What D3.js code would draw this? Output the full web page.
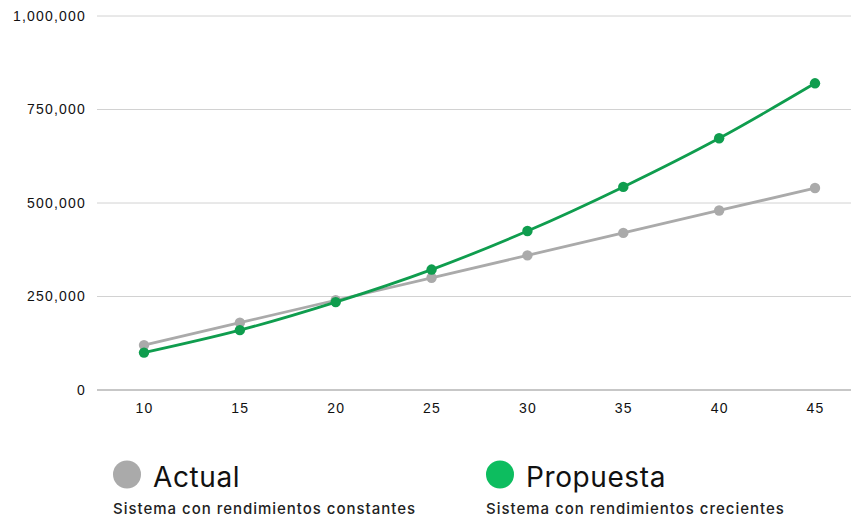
<!DOCTYPE html>
<html>
<head>
<meta charset="utf-8">
<script src="https://cdn.jsdelivr.net/npm/d3@7"></script>
<style>
  html, body { margin: 0; padding: 0; background: #fff; }
  svg { display: block; font-family: Inter, "Open Sans", sans-serif; }
</style>
</head>
<body>
<svg id="chart" width="851" height="517"></svg>
<script>
// Years of operation on the x axis
const years = [10, 15, 20, 25, 30, 35, 40, 45];
// Current system: constant returns
const actual = [120000, 180000, 240000, 300000, 360000, 420000, 480000, 540000];
// Proposed system: increasing returns
const propuesta = [100000, 160000, 235000, 322000, 425000, 543000, 673000, 820000];
const yTicks = [0, 250000, 500000, 750000, 1000000];

const series = [
  { name: "Actual", sub: "Sistema con rendimientos constantes", values: actual,
    line: "#aaaaaa", dot: "#aaaaaa", key: "#aaaaaa", curve: d3.curveLinear },
  { name: "Propuesta", sub: "Sistema con rendimientos crecientes", values: propuesta,
    line: "#0f9d4e", dot: "#0f9d4e", key: "#0dbd5f", curve: d3.curveMonotoneX }
];

const svg = d3.select("#chart");

const x = d3.scalePoint().domain(years).range([144, 815]);
const y = d3.scaleLinear().domain([0, 1000000]).range([390, 16]);

// Horizontal grid lines with value labels
const yAxis = d3.axisLeft(y).tickValues(yTicks).tickFormat(d3.format(",")).tickSize(0).tickPadding(0);
const gy = svg.append("g").attr("transform", "translate(86,0)").call(yAxis);
gy.select(".domain").remove();
gy.selectAll("text").attr("font-size", 14).attr("font-weight", 500)
  .attr("letter-spacing", 1.2).attr("fill", "#111");

svg.append("g").selectAll("line").data(yTicks).join("line")
  .attr("x1", 97).attr("x2", 851)
  .attr("y1", d => y(d)).attr("y2", d => y(d))
  .attr("stroke", d => d === 0 ? "#b5b5b5" : "#d2d2d2")
  .attr("stroke-width", d => d === 0 ? 1.5 : 1);

// Category labels along the bottom
const xAxis = d3.axisBottom(x).tickSize(0).tickPadding(0);
const gx = svg.append("g").attr("transform", "translate(0,403)").call(xAxis);
gx.select(".domain").remove();
gx.selectAll("text").attr("font-size", 14).attr("font-weight", 500)
  .attr("letter-spacing", 1.2).attr("fill", "#111");

// Lines and markers
series.forEach(s => {
  const line = d3.line().x((d, i) => x(years[i])).y(d => y(d)).curve(s.curve);
  svg.append("path").datum(s.values)
    .attr("d", line).attr("fill", "none")
    .attr("stroke", s.line).attr("stroke-width", 2.8);
  svg.append("g").selectAll("circle").data(s.values).join("circle")
    .attr("cx", (d, i) => x(years[i])).attr("cy", d => y(d))
    .attr("r", 5.2).attr("fill", s.dot);
});

// Legend
const legendX = [113, 486];
series.forEach((s, i) => {
  const g = svg.append("g").attr("transform", `translate(${legendX[i]},0)`);
  g.append("circle").attr("cx", 14).attr("cy", 474.5).attr("r", 14).attr("fill", s.key);
  g.append("text").attr("x", 40).attr("y", 487).attr("font-size", 28)
    .attr("letter-spacing", 0.6).attr("fill", "#111").text(s.name);
  g.append("text").attr("x", 0).attr("y", 514).attr("font-size", 15)
    .attr("font-weight", 500).attr("letter-spacing", 0.98)
    .attr("fill", "#222").text(s.sub);
});
</script>
</body>
</html>
